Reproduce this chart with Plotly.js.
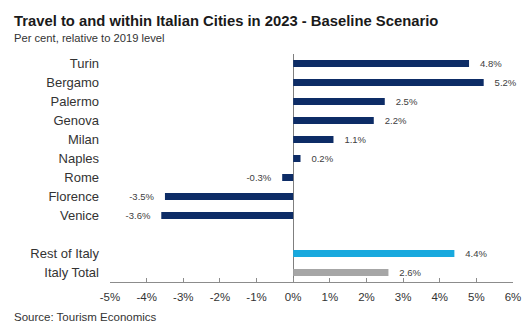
<!DOCTYPE html>
<html><head><meta charset="utf-8">
<script src="https://cdn.plot.ly/plotly-3.0.1.min.js"></script>
<style>body{margin:0;background:#fff}#chart{width:525px;height:325px}</style>
</head><body><div id="chart"></div>
<script>
const categories = ["Turin","Bergamo","Palermo","Genova","Milan","Naples","Rome","Florence","Venice"," ","Rest of Italy","Italy Total"];
const cityValues = [4.8,5.2,2.5,2.2,1.1,0.2,-0.3,-3.5,-3.6,null,null,null];
const restValues = [null,null,null,null,null,null,null,null,null,null,4.4,null];
const totalValues = [null,null,null,null,null,null,null,null,null,null,null,2.6];
const xTicks = [-5,-4,-3,-2,-1,0,1,2,3,4,5,6];

const PAD = '\u00A0\u00A0\u00A0';
function trace(vals, color){
  return {type:'bar', orientation:'h', y:categories, x:vals,
    marker:{color:color}, width:0.37,
    text: vals.map(v=> v===null? '' : (v<0 ? v.toFixed(1)+'%'+PAD : PAD+v.toFixed(1)+'%')),
    textposition:'outside', cliponaxis:false, constraintext:'none',
    textfont:{family:'Liberation Sans, Arial, sans-serif', size:9.5, color:'#404040'},
    hoverinfo:'none', showlegend:false};
}
const data = [trace(cityValues,'#0D2C66'), trace(restValues,'#18A9DE'), trace(totalValues,'#A6A6A6')];

const layout = {
  width:525, height:325,
  margin:{l:110, r:12, t:53.5, b:42.5},
  paper_bgcolor:'#fff', plot_bgcolor:'#fff',
  barmode:'overlay',
  font:{family:'Liberation Sans, Arial, sans-serif', color:'#333'},
  xaxis:{range:[-5,6], tickvals:xTicks, ticktext:xTicks.map(v=>v+'%'),
    showgrid:false, zeroline:true, zerolinecolor:'#7f7f7f', zerolinewidth:1,
    showline:true, linecolor:'#8c8c8c', linewidth:1,
    ticks:'inside', ticklen:4, tickcolor:'#8c8c8c', ticklabelstandoff:4,
    tickfont:{size:11.5, color:'#333'}, fixedrange:true},
  yaxis:{type:'category', categoryorder:'array', categoryarray:categories,
    autorange:'reversed', showgrid:false, zeroline:false, showline:false,
    ticks:'', ticklabelstandoff:10, tickfont:{size:13, color:'#333'}},
  annotations:[
    {text:'<b>Travel to and within Italian Cities in 2023 - Baseline Scenario</b>', xref:'paper', yref:'paper',
     x:-98/403, y:1, xanchor:'left', yanchor:'middle', yshift:33.5, showarrow:false,
     font:{size:14.8, color:'#1a1a1a'}},
    {text:'Per cent, relative to 2019 level', xref:'paper', yref:'paper',
     x:-98/403, y:1, xanchor:'left', yanchor:'middle', yshift:16.5, showarrow:false,
     font:{size:11.2, color:'#333'}},
    {text:'Source: Tourism Economics', xref:'paper', yref:'paper',
     x:-98/403, y:0, xanchor:'left', yanchor:'middle', yshift:-35, showarrow:false,
     font:{size:11.5, color:'#333'}}
  ]
};
Plotly.newPlot('chart', data, layout, {displayModeBar:false, staticPlot:true});
</script></body></html>
